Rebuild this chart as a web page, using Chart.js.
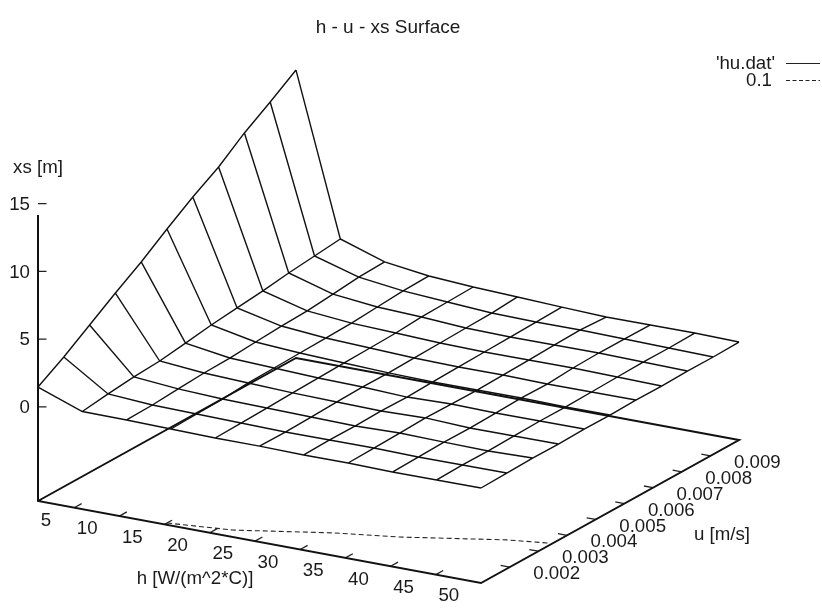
<!DOCTYPE html>
<html>
<head>
<meta charset="utf-8">
<style>
  html, body { margin: 0; padding: 0; background: #fff; }
  canvas { display: block; }
</style>
<script src="https://cdn.jsdelivr.net/npm/chart.js@4/dist/chart.umd.min.js"></script>
</head>
<body>
<canvas id="surfaceChart" width="822" height="608"></canvas>
<script>
// grid of the surface
const hValues = [6, 10.9, 15.8, 20.7, 25.6, 30.5, 35.4, 40.3, 45.2, 50.1, 55];
const uValues = [0.001, 0.0019, 0.0028, 0.0037, 0.0046, 0.0055, 0.0064, 0.0073, 0.0082, 0.0091, 0.01];

// xs, one list per h, in uValues order
const xsH0 = [1.47, 2.63, 3.94, 5.24, 6.48, 7.86, 9.16, 10.32, 11.78, 13.01, 14.31];
const xsH1 = [0.27, 0.51, 0.71, 0.83, 1.10, 1.38, 1.58, 1.78, 2.05, 2.25, 2.45];
const xsH2 = [0.25, 0.30, 0.43, 0.55, 0.60, 0.73, 0.85, 0.91, 1.10, 1.30, 1.36];
const xsH3 = [0.19, 0.24, 0.29, 0.42, 0.47, 0.52, 0.57, 0.62, 0.75, 0.88, 0.93];
const xsH4 = [0.13, 0.18, 0.23, 0.29, 0.34, 0.39, 0.44, 0.49, 0.62, 0.67, 0.72];
const xsH5 = [0.14, 0.12, 0.17, 0.23, 0.28, 0.26, 0.31, 0.36, 0.41, 0.46, 0.59];
const xsH6 = [0.09, 0.14, 0.12, 0.17, 0.14, 0.20, 0.25, 0.30, 0.35, 0.40, 0.45];
const xsH7 = [0.10, 0.15, 0.20, 0.26, 0.23, 0.21, 0.26, 0.31, 0.37, 0.42, 0.32];
const xsH8 = [0.04, 0.09, 0.14, 0.12, 0.17, 0.23, 0.20, 0.33, 0.38, 0.36, 0.34];
const xsH9 = [0.06, 0.11, 0.09, 0.14, 0.19, 0.17, 0.22, 0.27, 0.32, 0.30, 0.35];
const xsH10 = [0.07, 0.12, 0.17, 0.15, 0.20, 0.18, 0.23, 0.21, 0.26, 0.24, 0.29];
const xsRows = [xsH0, xsH1, xsH2, xsH3, xsH4, xsH5, xsH6, xsH7, xsH8, xsH9, xsH10];

// 0.1 contour on the base plane
const contourH = [20, 26.5, 35.2, 41.4, 50.7, 54.6];
const contourU = [0.00109, 0.00133, 0.00207, 0.00246, 0.00326, 0.00347];

// tick labels
const hTicks = [5, 10, 15, 20, 25, 30, 35, 40, 45, 50];
const uTicks = [0.002, 0.003, 0.004, 0.005, 0.006, 0.007, 0.008, 0.009];
const xsTicks = [0, 5, 10, 15];

const hMin = 6, hMax = 55, uMin = 0.001, uMax = 0.01;
const xsBase = -6.94, xsTop = 14.17;

// parallel projection of (h, u, xs) into the flat page scales
function project(h, u, xs) {
    const a = (h - hMin) / (hMax - hMin);
    const b = (u - uMin) / (uMax - uMin);
    return {
        x: 38 + 443 * a + 258 * b,
        y: 501 + 82 * a - 143 * b - (xs - xsBase) * 13.55
    };
}

const gap = { x: NaN, y: NaN };

const surfacePoints = [];
xsRows.forEach((row, i) => {
    row.forEach((xs, j) => surfacePoints.push(project(hValues[i], uValues[j], xs)));
    surfacePoints.push(gap);
});
uValues.forEach((u, j) => {
    hValues.forEach((h, i) => surfacePoints.push(project(h, u, xsRows[i][j])));
    surfacePoints.push(gap);
});

const contourPoints = contourH.map((h, i) => project(h, contourU[i], xsBase));

const borderPoints = [
    project(hMin, uMin, xsTop), project(hMin, uMin, xsBase), project(hMax, uMin, xsBase),
    project(hMax, uMax, xsBase), project(hMin, uMax, xsBase), project(hMin, uMin, xsBase)
];

const tickPoints = [];
hTicks.filter(h => h >= hMin).forEach(h => {
    tickPoints.push(project(h, uMin, xsBase), project(h, uMin + 0.00026, xsBase), gap);
});
uTicks.forEach(u => {
    tickPoints.push(project(hMax, u, xsBase), project(hMax - 1, u, xsBase), gap);
});
xsTicks.forEach(xs => {
    const p = project(hMin, uMin, xs);
    tickPoints.push(p, { x: p.x + 8.5, y: p.y }, gap);
});

const textPlugin = {
    id: 'pageText',
    afterDraw(chart) {
        const { ctx, scales: { x, y } } = chart;
        const px = p => ({ x: x.getPixelForValue(p.x), y: y.getPixelForValue(p.y) });
        ctx.save();
        ctx.fillStyle = '#1a1a1a';
        ctx.textBaseline = 'middle';

        ctx.textAlign = 'center';
        ctx.font = '19px "Liberation Sans", Arial, sans-serif';
        ctx.fillText('h - u - xs Surface', 388, 28);
        ctx.font = '18.7px "Liberation Sans", Arial, sans-serif';
        ctx.fillText('xs [m]', 38, 168);
        ctx.fillText('h [W/(m^2*C)]', 195, 579);
        ctx.fillText('u [m/s]', 722, 535);

        hTicks.forEach(h => {
            const p = px(project(h, uMin, xsBase));
            // the 5 sits just off the axis end, keep it under the corner
            ctx.fillText(String(h), Math.max(p.x, 33) + 13, p.y + 21.5);
        });
        uTicks.forEach(u => {
            const p = px(project(hMax, u, xsBase));
            ctx.fillText(u.toFixed(3), p.x + 47, p.y + 7);
        });
        ctx.textAlign = 'right';
        xsTicks.forEach(xs => {
            const p = px(project(hMin, uMin, xs));
            ctx.fillText(String(xs), p.x - 8, p.y + 1);
        });

        // key, top right
        ctx.fillText("'hu.dat'", 775, 64);
        ctx.fillText('0.1', 772, 81);
        ctx.strokeStyle = '#222';
        ctx.lineWidth = 1.2;
        ctx.beginPath();
        ctx.moveTo(786, 63.5);
        ctx.lineTo(820, 63.5);
        ctx.stroke();
        ctx.setLineDash([4, 2.5]);
        ctx.beginPath();
        ctx.moveTo(786, 80.5);
        ctx.lineTo(820, 80.5);
        ctx.stroke();
        ctx.restore();
    }
};

const line = { showLine: true, pointRadius: 0, spanGaps: false, tension: 0, fill: false };

const chart = new Chart(document.getElementById('surfaceChart').getContext('2d'), {
    type: 'scatter',
    data: {
        datasets: [
            { ...line, label: 'base', data: borderPoints, borderColor: '#111', borderWidth: 2 },
            { ...line, label: 'ticks', data: tickPoints, borderColor: '#222', borderWidth: 1.3 },
            { ...line, label: "'hu.dat'", data: surfacePoints, borderColor: '#111', borderWidth: 1.4 },
            { ...line, label: '0.1', data: contourPoints, borderColor: '#222', borderWidth: 1.1, borderDash: [5, 3] }
        ]
    },
    options: {
        responsive: false,
        animation: false,
        devicePixelRatio: 1,
        layout: { padding: 0 },
        scales: {
            x: { type: 'linear', min: 0, max: 822, display: false },
            y: { type: 'linear', min: 0, max: 608, reverse: true, display: false }
        },
        plugins: {
            legend: { display: false },
            title: { display: false },
            tooltip: { enabled: false }
        }
    },
    plugins: [textPlugin]
});
</script>
</body>
</html>
